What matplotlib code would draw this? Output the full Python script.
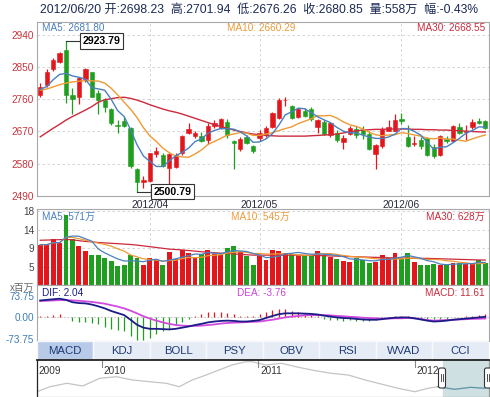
import matplotlib
matplotlib.use("Agg")
import matplotlib.pyplot as plt
from matplotlib.patches import Rectangle, FancyBboxPatch
import numpy as np
import pandas as pd

plt.rcParams['font.family'] = ['Liberation Sans', 'Noto Sans CJK SC']

# ---- data (70 trading days, 2012/03/08 - 2012/06/20) ----
month_ticks = [17, 34, 56]
month_labels = ['2012/04', '2012/05', '2012/06']

opens = [2772, 2800, 2844, 2866, 2898, 2772, 2768, 2816, 2836, 2777,
         2758, 2732, 2688, 2699, 2679, 2564, 2529, 2532, 2607, 2604,
         2567, 2571, 2610, 2667, 2657, 2657, 2646, 2685, 2679, 2698,
         2642, 2620, 2654, 2629, 2651, 2660, 2684, 2707, 2757, 2742,
         2710, 2727, 2732, 2683, 2698, 2660, 2665, 2641, 2663, 2676,
         2674, 2663, 2607, 2629, 2672, 2672, 2705, 2655, 2636, 2646,
         2651, 2627, 2604, 2648, 2644, 2682, 2668, 2682, 2699, 2698.23]
closes = [2796, 2838, 2870, 2889, 2772, 2760, 2819, 2844, 2768, 2757,
          2740, 2693, 2685, 2686, 2573, 2529, 2533, 2609, 2616, 2573,
          2607, 2604, 2657, 2676, 2665, 2643, 2685, 2695, 2704, 2660,
          2639, 2648, 2637, 2615, 2665, 2681, 2721, 2758, 2759, 2707,
          2732, 2713, 2704, 2702, 2662, 2693, 2646, 2651, 2679, 2660,
          2663, 2620, 2632, 2676, 2682, 2702, 2700, 2629, 2638, 2629,
          2604, 2602, 2657, 2644, 2685, 2667, 2672, 2696, 2695, 2680.85]
highs = [2805, 2844, 2875, 2894, 2923.79, 2791, 2822, 2847, 2838, 2786,
         2763, 2737, 2702, 2710, 2682, 2569, 2545, 2611, 2627, 2609,
         2609, 2611, 2660, 2693, 2672, 2669, 2694, 2702, 2707, 2704,
         2646, 2655, 2660, 2632, 2674, 2685, 2725, 2763, 2766, 2744,
         2735, 2735, 2740, 2704, 2702, 2697, 2674, 2660, 2685, 2685,
         2685, 2670, 2635, 2682, 2702, 2719, 2721, 2688, 2657, 2655,
         2655, 2635, 2660, 2657, 2688, 2693, 2688, 2704, 2707, 2701.94]
lows = [2766, 2796, 2841, 2861, 2751, 2719, 2747, 2810, 2766, 2719,
        2726, 2688, 2667, 2684, 2569, 2500.79, 2511, 2529, 2599, 2571,
        2522, 2569, 2604, 2662, 2653, 2641, 2635, 2681, 2677, 2653,
        2566, 2616, 2635, 2611, 2644, 2655, 2680, 2704, 2742, 2705,
        2707, 2710, 2700, 2667, 2660, 2655, 2641, 2620, 2660, 2651,
        2648, 2618, 2564, 2623, 2670, 2670, 2691, 2627, 2629, 2620,
        2601, 2595, 2601, 2639, 2641, 2663, 2646, 2676, 2691, 2676.26]
volume = [10.1, 10.1, 11.6, 10.6, 17.4, 11.6, 9.8, 8.5, 7.6, 7.6,
          6.8, 6.0, 4.8, 5.1, 7.6, 6.8, 5.0, 6.8, 6.2, 5.0,
          8.3, 6.6, 8.9, 8.1, 7.0, 7.9, 8.9, 7.9, 7.6, 9.2,
          9.7, 8.3, 7.3, 5.1, 7.3, 6.4, 8.9, 8.5, 8.1, 7.9,
          7.5, 7.6, 7.5, 8.5, 7.5, 7.0, 6.6, 6.0, 5.8, 6.8,
          6.4, 5.6, 5.8, 7.6, 6.8, 8.0, 6.8, 8.0, 5.8, 5.0,
          5.1, 5.4, 5.1, 5.0, 5.6, 5.6, 5.4, 5.4, 6.4, 5.58]
# moving averages need history before the window: first values
ma5_head = [2788, 2796, 2815, 2830]
ma10_head = [2786, 2789, 2795, 2801, 2806, 2809, 2811, 2813, 2812]
ma30 = [2655, 2667, 2679, 2690, 2702, 2712, 2721, 2730, 2740, 2752,
        2759, 2762, 2765, 2766, 2763, 2758, 2752, 2745, 2739, 2733,
        2728, 2724, 2719, 2713, 2707, 2701, 2695, 2689, 2684, 2679,
        2674, 2670, 2666, 2663, 2661, 2659, 2658, 2657, 2657, 2657,
        2657, 2657, 2658, 2659, 2660, 2661, 2663, 2666, 2669, 2672,
        2674, 2675, 2676, 2676, 2677, 2677, 2677, 2677, 2676, 2676,
        2675, 2675, 2674, 2674, 2673, 2672, 2671, 2670, 2669, 2668.55]
vol_ma30 = [11.2, 11.25, 11.3, 11.35, 11.4, 11.3, 11.1, 10.9, 10.8, 10.65,
            10.55, 10.45, 10.35, 10.25, 10.15, 10.0, 9.8, 9.6, 9.4, 9.2,
            9.0, 8.9, 8.8, 8.65, 8.5, 8.35, 8.2, 8.1, 8.0, 7.9,
            7.8, 7.7, 7.6, 7.5, 7.5, 7.5, 7.5, 7.5, 7.5, 7.5,
            7.5, 7.45, 7.4, 7.4, 7.35, 7.3, 7.25, 7.2, 7.15, 7.1,
            7.05, 7.0, 6.95, 6.9, 6.85, 6.8, 6.8, 6.75, 6.75, 6.7,
            6.7, 6.65, 6.6, 6.55, 6.5, 6.45, 6.4, 6.35, 6.3, 6.28]
dif = [58, 60, 62, 64, 60, 52, 49, 48, 44, 38,
       31, 22, 15, 8, -8, -25, -35, -39, -39, -40,
       -41, -39, -35, -31, -26, -22, -17, -14, -12, -11,
       -12, -14, -14, -12, -9, -2, 5, 11, 14, 14,
       14, 13, 12, 10, 6, 3, 0, -2, -3, -5,
       -7, -8, -8, -6, -3, -1, 0, 0, -3, -7,
       -11, -14, -13, -11, -8, -6, -4, -2, 0, 2.04]
dea = [56, 57, 58, 59, 59, 58, 57, 55, 53, 50,
       47, 42, 37, 31, 23, 14, 4, -4, -11, -17,
       -22, -26, -28, -29, -29, -28, -26, -24, -21, -19,
       -18, -17, -16, -15, -14, -11, -8, -4, 0, 3,
       5, 7, 8, 8, 8, 7, 5, 4, 2, 1,
       -1, -2, -3, -4, -4, -3, -3, -2, -3, -5,
       -9, -11, -10, -9, -8, -7, -6, -5, -4.5, -3.76]
# long-term navigator (fractional year, index level)
nav_year = [2009.587, 2009.670, 2009.778, 2009.879, 2009.987, 2010.095, 2010.197,
            2010.305, 2010.413, 2010.495, 2010.578, 2010.667, 2010.749, 2010.832,
            2010.921, 2010.959, 2011.048, 2011.149, 2011.257, 2011.365, 2011.467,
            2011.575, 2011.683, 2011.784, 2011.892, 2012.000, 2012.083, 2012.146,
            2012.254, 2012.356, 2012.444]
nav_level = [2260, 2760, 3100, 2830, 3600, 3760, 3430, 3260, 3100, 2760, 3430,
             3930, 4430, 4930, 5260, 5260, 4930, 5100, 4700, 4360, 4100, 3930,
             3430, 3030, 2600, 2260, 2600, 2760, 2500, 2700, 2600]
nav_years_lab = [2009, 2010, 2011, 2012]
sel_start = 2012.18
tabs = ['MACD', 'KDJ', 'BOLL', 'PSY', 'OBV', 'RSI', 'WVAD', 'CCI']

header = "2012/06/20 开:2698.23  高:2701.94  低:2676.26  收:2680.85  量:558万  幅:-0.43%"

# ---- derived series ----
n = len(closes)
x = np.arange(n)
o = np.array(opens); c = np.array(closes)
up = c >= o
RED, GREEN = '#e3161c', '#1f9e1f'
cols = [RED if u else GREEN for u in up]

ma5 = pd.Series(closes).rolling(5).mean().to_numpy()
ma5[:len(ma5_head)] = ma5_head
ma10 = pd.Series(closes).rolling(10).mean().to_numpy()
ma10[:len(ma10_head)] = ma10_head
vol_ma5 = pd.Series(volume).rolling(5, min_periods=1).mean()
vol_ma10 = pd.Series(volume).rolling(10, min_periods=1).mean()
macd = 2 * (np.array(dif) - np.array(dea))

C5, C10, C30 = '#4a80c0', '#ee9a36', '#cc2a3c'
GRID = dict(color='#cfcfcf', linestyle=(0, (3, 3)), linewidth=0.6)

W, H = 490, 397
fig = plt.figure(figsize=(W / 100, H / 100), dpi=100)


def add_ax(x0, y0, x1, y1):
    return fig.add_axes([x0 / W, 1 - y1 / H, (x1 - x0) / W, (y1 - y0) / H])


def ftext(px, py, s, **kw):
    fig.text(px / W, 1 - py / H, s, va='center', **kw)


L, R = 37, 488.5
ax_p = add_ax(L, 22, R, 195.7)
ax_v = add_ax(L, 208.5, R, 285.3)
ax_m = add_ax(L, 285.3, R, 341)
ax_t = add_ax(L, 341, R, 360)
ax_n = add_ax(L, 360, R, 396.5)

for ax in (ax_p, ax_v, ax_m):
    ax.set_xlim(-0.5, n - 0.5)
    for s in ax.spines.values():
        s.set_color('#a8a8a8')
        s.set_linewidth(0.8)
    ax.tick_params(length=0, labelsize=7.2, pad=2)

# ---- price panel ----
pticks = [2490, 2580, 2670, 2760, 2850, 2940]
ax_p.set_ylim(2490, 2977)
ax_p.set_yticks(pticks)
ax_p.set_yticklabels([str(t) for t in pticks], color='#c8343a')
for t in pticks[1:]:
    ax_p.axhline(t, **GRID, zorder=0)
for t in month_ticks:
    ax_p.axvline(t, **GRID, zorder=0)
ax_p.set_xticks(month_ticks)
ax_p.set_xticklabels(month_labels, color='#2a2a3a', fontsize=7.4)
ax_p.tick_params(axis='x', pad=3)

ax_p.vlines(x, lows, highs, colors=cols, linewidth=0.9, zorder=2)
body = np.maximum(np.abs(c - o), 1.5)
ax_p.bar(x, body, bottom=np.minimum(o, c), width=0.66, color=cols,
         edgecolor=cols, linewidth=0.4, zorder=3)
ax_p.plot(x, ma30, color=C30, lw=1.0, zorder=4)
ax_p.plot(x, ma10, color=C10, lw=1.0, zorder=4)
ax_p.plot(x, ma5, color=C5, lw=1.0, zorder=4)

# extreme markers
i_hi = int(np.argmax(highs)); i_lo = int(np.argmin(lows))
box = dict(boxstyle='square,pad=0.25', fc='white', ec='#333333', lw=0.8)
ax_p.plot([i_hi, i_hi + 2.45], [highs[i_hi]] * 2, color='#333333', lw=0.8, zorder=5)
ax_p.text(i_hi + 2.6, highs[i_hi], f"{highs[i_hi]:.2f}", fontsize=7.6, fontweight='bold',
          va='center', ha='left', bbox=box, zorder=6)
ax_p.plot([i_lo, i_lo + 2.45], [lows[i_lo]] * 2, color='#333333', lw=0.8, zorder=5,
          clip_on=False)
ax_p.text(i_lo + 2.6, lows[i_lo], f"{lows[i_lo]:.2f}", fontsize=7.6, fontweight='bold',
          va='center', ha='left', bbox=box, zorder=6, clip_on=False)

ftext(42, 28, "MA5: 2681.80", color=C5, fontsize=7.2)
ftext(227, 28, "MA10: 2660.29", color=C10, fontsize=7.2)
ftext(485, 28, "MA30: 2668.55", color=C30, fontsize=7.2, ha='right')

# ---- volume panel ----
vticks = [4.6, 9.2, 13.8, 18.4]
ax_v.set_ylim(0, 19.1)
ax_v.set_yticks(vticks)
ax_v.set_yticklabels(['5', '9', '14', '18'], color='#444444')
ax_v.set_xticks([])
for t in vticks:
    ax_v.axhline(t, **GRID, zorder=0)
for t in month_ticks:
    ax_v.axvline(t, **GRID, zorder=0)
ax_v.bar(x, volume, width=0.76, color=cols, linewidth=0, zorder=2)
ax_v.plot(x, vol_ma30, color=C30, lw=0.9, zorder=3)
ax_v.plot(x, vol_ma10, color=C10, lw=0.9, zorder=3)
ax_v.plot(x, vol_ma5, color=C5, lw=0.9, zorder=3)
ftext(42, 217, "MA5: 571万", color=C5, fontsize=7.2)
ftext(231, 217, "MA10: 545万", color=C10, fontsize=7.2)
ftext(485, 217, "MA30: 628万", color=C30, fontsize=7.2, ha='right')

# ---- MACD panel ----
ax_m.set_ylim(-80.6, 109.8)
ax_m.set_yticks([-73.75, 0, 73.75])
ax_m.set_yticklabels(['-73.75', '0.00', '73.75'], color='#3d7db5')
ax_m.set_xticks([])
ax_m.axhline(0, color='#b8b8b8', linestyle=(0, (2, 2)), lw=0.6, zorder=0)
ax_m.vlines(x, 0, macd, colors=[RED if v >= 0 else GREEN for v in macd], lw=0.9, zorder=2)
ax_m.plot(x, dea, color='#d24ae0', lw=1.3, zorder=3)
ax_m.plot(x, dif, color='#1c1c88', lw=1.3, zorder=4)
ftext(34, 287.5, "x百万", color='#666666', fontsize=7, ha='right')
ftext(42, 292.5, "DIF: 2.04", color='#1c1c88', fontsize=7.2)
ftext(237, 292.5, "DEA: -3.76", color='#cc44dd', fontsize=7.2)
ftext(485, 292.5, "MACD: 11.61", color=C30, fontsize=7.2, ha='right')

# ---- indicator tabs ----
ax_t.set_xlim(0, len(tabs)); ax_t.set_ylim(0, 1); ax_t.axis('off')
for i, name in enumerate(tabs):
    ax_t.add_patch(Rectangle((i, 0), 1, 1, fc='#b7cbe8' if i == 0 else '#e6ecf6',
                             ec='#f8f8fc', lw=1.0))
    ax_t.text(i + 0.5, 0.48, name, ha='center', va='center', fontsize=8.2, color='#1e3a74')

# ---- navigator ----
ax_n.set_xlim(nav_year[0], 2012.47)
ax_n.set_ylim(1780, 5430)
ax_n.set_xticks([]); ax_n.set_yticks([])
for k, s in ax_n.spines.items():
    s.set_color('#222222' if k in ('top', 'left') else '#999999')
    s.set_linewidth(1.3 if k == 'top' else 0.9)
ax_n.axvspan(sel_start, 2012.47, color='#cfe0e2', zorder=1)
ny = np.array(nav_year); nl = np.array(nav_level)
ax_n.plot(ny, nl, color='#c4c4c4', lw=0.9, zorder=2)
m = ny >= 2012.146
ax_n.plot(ny[m], nl[m], color='#5e98ab', lw=0.9, zorder=3)
for yr in nav_years_lab:
    if yr > nav_year[0]:
        ax_n.axvline(yr, ymin=0.82, ymax=1, color='#888888', lw=0.8)
    ax_n.text(max(yr, nav_year[0]) + 0.012, 4350, str(yr), fontsize=7.2, color='#333333',
              va='center', ha='left', zorder=2)

# selection handles
ov = fig.add_axes([0, 0, 1, 1], zorder=10)
ov.set_xlim(0, W); ov.set_ylim(H, 0); ov.axis('off')
for hx in (442, 488):
    ov.add_patch(FancyBboxPatch((hx - 3.5, 368), 7, 20, boxstyle='round,pad=0,rounding_size=2',
                                fc='white', ec='#333333', lw=0.8))
    ov.plot([hx - 1, hx - 1], [374, 381], color='#333333', lw=0.6)
    ov.plot([hx + 1, hx + 1], [374, 381], color='#333333', lw=0.6)

# header
ftext(40, 9.5, header, color='#1b2a55', fontsize=8.7)

fig.savefig('out.png', dpi=100)
